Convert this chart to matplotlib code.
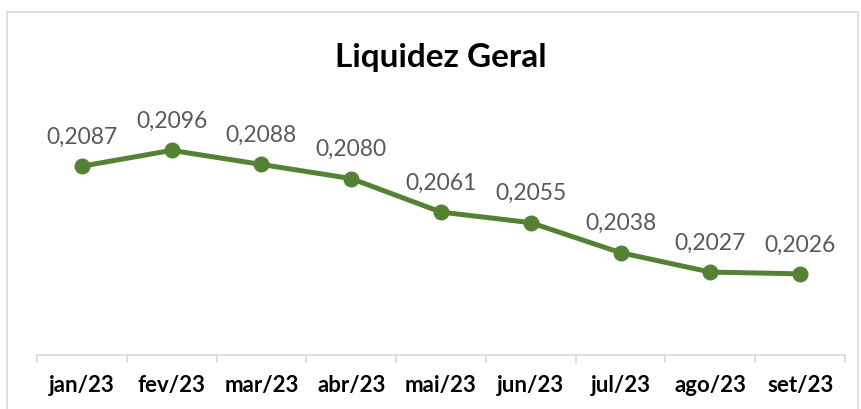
import matplotlib.pyplot as plt
from matplotlib.patches import Rectangle

meses = ['jan/23', 'fev/23', 'mar/23', 'abr/23', 'mai/23', 'jun/23', 'jul/23', 'ago/23', 'set/23']
liquidez = [0.2087, 0.2096, 0.2088, 0.2080, 0.2061, 0.2055, 0.2038, 0.2027, 0.2026]

plt.rcParams['font.family'] = ['Lato', 'DejaVu Sans']

fig = plt.figure(figsize=(8.61, 4.10), dpi=100)

# borda do gráfico (estilo Excel)
fig.patches.append(Rectangle((7 / 861, -0.05), 851 / 861, 1.05 - 13 / 410,
                             transform=fig.transFigure, fill=False,
                             edgecolor='#D9D9D9', linewidth=1.2))

ax = fig.add_axes([37 / 861, 54 / 410, 808 / 861, 247 / 410])

x = range(len(meses))
ax.plot(x, liquidez, color='#548235', linewidth=3.6, marker='o', markersize=10.5)

# rótulos de dados
for i, v in enumerate(liquidez):
    ax.annotate(f'{v:.4f}'.replace('.', ','), (i, v), xytext=(0, 14),
                textcoords='offset points', ha='center', va='bottom',
                fontsize=16.5, color='#595959')

ax.set_xlim(-0.5, len(meses) - 0.5)
ax.set_ylim(0.198, 0.212)
ax.set_xticks([i - 0.5 for i in range(len(meses) + 1)], minor=False)
ax.set_xticklabels([])
ax.set_xticks(list(x), minor=True)
ax.set_xticklabels(meses, minor=True, fontsize=16, fontweight='bold')
ax.tick_params(axis='x', which='major', length=6, width=1.2, color='#D9D9D9')
ax.tick_params(axis='x', which='minor', length=0, pad=14)
ax.set_yticks([])

for s in ['top', 'right', 'left']:
    ax.spines[s].set_visible(False)
ax.spines['bottom'].set_color('#D9D9D9')
ax.spines['bottom'].set_linewidth(1.2)

fig.text(441 / 861, 1 - 57 / 410, 'Liquidez Geral', ha='center', va='center',
         fontsize=24, fontweight='bold')

fig.savefig('out.png', dpi=100)
